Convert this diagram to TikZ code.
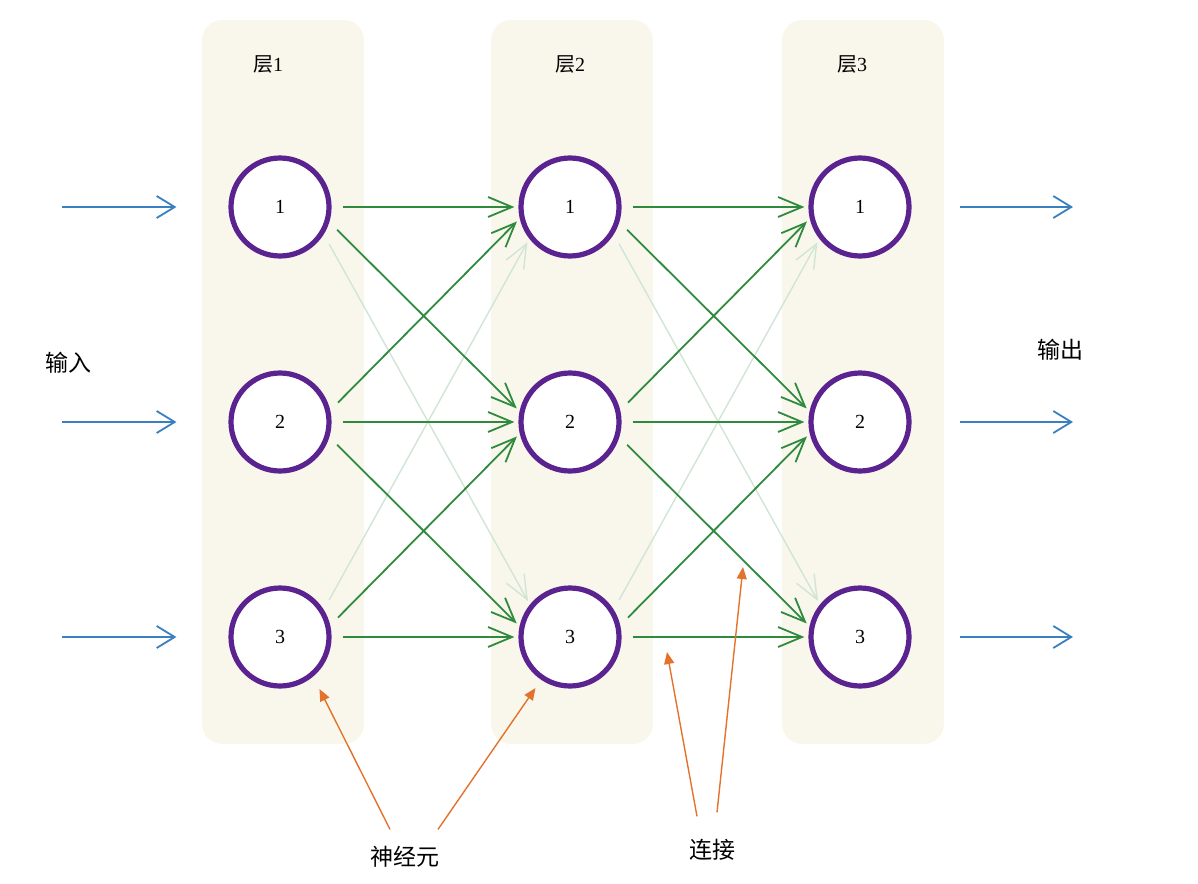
\documentclass[tikz,border=0pt]{standalone}
\usepackage{fontspec}
\setmainfont{Liberation Serif}
\newfontfamily\cjk{Noto Sans CJK SC}
\usetikzlibrary{arrows.meta}
\definecolor{boxbg}{HTML}{F9F7EC}
\definecolor{purp}{HTML}{5A2390}
\definecolor{lgreen}{HTML}{2E8B3E}
\definecolor{lblue}{HTML}{3A7FBF}
\definecolor{lorange}{HTML}{E3732C}

\tikzset{
  layer/.style={fill=boxbg, rounded corners=10pt},
  neuron/.style={circle, draw=purp, line width=2.6pt, fill=white,
    minimum size=49pt, font=\fontsize{10}{12}\selectfont},
  lbl/.style={font=\fontsize{11.5}{13}\selectfont},
  link/.style={-{Straight Barb[length=12pt,width=10pt]}, draw=lgreen,
    line width=0.9pt, shorten <=5.5pt, shorten >=2pt},
  faint/.style={link, draw=lgreen!22, line width=0.7pt},
  io/.style={-{Straight Barb[length=9pt,width=11pt]}, draw=lblue,
    line width=0.9pt},
  note/.style={-{Triangle[length=6pt,width=5pt]}, draw=lorange,
    fill=lorange, line width=0.7pt}
}

\begin{document}
\begin{tikzpicture}[x=0.5pt,y=-0.5pt]
  \useasboundingbox (0,0) rectangle (1198,883);
  % layers
  \foreach \x in {202,491,782}
    \fill[layer](\x,20) rectangle ++(162,724);
  \foreach \l/\x/\lx in {1/280/268,2/570/570,3/860/852}{
    \node[lbl, font=\fontsize{10}{12}\selectfont] (h\l) at (\lx,64) {{\cjk 层}\l};
    \foreach \i/\y in {1/207,2/422,3/637}
      \node[neuron] (n\l\i) at (\x,\y) {\i};
  }
  % connections
  \foreach \a/\b in {1/2,2/3}{
    \draw[faint] (n\a1.-32) -- (n\b3.141);
    \draw[faint] (n\a3.32) -- (n\b1.-142);
    \foreach \i in {1,2,3}
      \draw[link] (n\a\i.east) -- (n\b\i.west);
    \foreach \i/\j in {1/2,2/3}{
      \draw[link] (n\a\i.-17) -- (n\b\j.168);
      \draw[link] (n\a\j.13) -- (n\b\i.-167);
    }
  }
  % inputs and outputs
  \foreach \i/\y in {1/207,2/422,3/637}{
    \coordinate (in\i) at (62,\y);
    \coordinate (out\i) at (1073,\y);
    \draw[io, shorten >=26pt] (in\i) -- (n1\i.west);
    \draw[io, shorten <=24pt] (n3\i.east) -- (out\i);
  }
  \node[lbl] (inp) at (68,363) {\cjk 输入};
  \node[lbl] (outp) at (1060,350) {\cjk 输出};
  % notes
  \node[lbl] (neur) at (405,857) {\cjk 神经元};
  \node[lbl] (conn) at (712,850) {\cjk 连接};
  \coordinate (lk1) at (667,652);
  \coordinate (lk2) at (743,567);
  \draw[note, shorten >=7pt] ([xshift=-7.5pt,yshift=5pt]neur.north) -- (n13.-50);
  \draw[note, shorten >=5pt] ([xshift=16.5pt,yshift=5pt]neur.north) -- (n23.-124);
  \draw[note] ([xshift=-7.5pt,yshift=8pt]conn.north) -- (lk1);
  \draw[note] ([xshift=2.5pt,yshift=10pt]conn.north) -- (lk2);
\end{tikzpicture}
\end{document}
